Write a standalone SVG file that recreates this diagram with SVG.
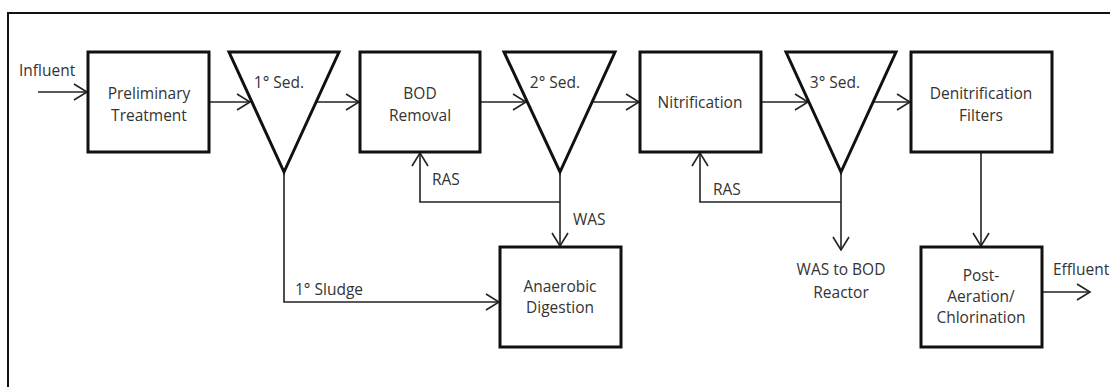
<svg xmlns="http://www.w3.org/2000/svg" width="1110" height="387" viewBox="0 0 1110 387">
<style>
.box{fill:#fff;stroke:#111;stroke-width:3}
.tri{fill:#fff;stroke:#111;stroke-width:3;stroke-linejoin:miter}
.ln{fill:none;stroke:#222;stroke-width:1.6}
text{font-family:"Open Sans","Liberation Sans",sans-serif;font-size:15.5px;fill:#333}
.c{text-anchor:middle}
</style>
<defs>
<marker id="ah" markerUnits="userSpaceOnUse" markerWidth="20" markerHeight="20" viewBox="-15 -10 17 20" refX="0" refY="0" orient="auto">
<path d="M-13,-8 L0,0 L-13,8" fill="none" stroke="#222" stroke-width="1.6"/>
</marker>
</defs>
<rect x="8" y="13" width="1110" height="390" fill="none" stroke="#111" stroke-width="2"/>
<g id="connectors">
<path class="ln" d="M38,92 H87" marker-end="url(#ah)"/>
<path class="ln" d="M209,102 H250" marker-end="url(#ah)"/>
<path class="ln" d="M316,102 H359" marker-end="url(#ah)"/>
<path class="ln" d="M480,102 H526" marker-end="url(#ah)"/>
<path class="ln" d="M592,102 H639" marker-end="url(#ah)"/>
<path class="ln" d="M761,102 H808" marker-end="url(#ah)"/>
<path class="ln" d="M873,102 H910" marker-end="url(#ah)"/>
<path class="ln" d="M284,172 V302 H499" marker-end="url(#ah)"/>
<path class="ln" d="M560,172 V246" marker-end="url(#ah)"/>
<path class="ln" d="M560,202 H420 V153" marker-end="url(#ah)"/>
<path class="ln" d="M841,172 V250" marker-end="url(#ah)"/>
<path class="ln" d="M841,202 H700 V153" marker-end="url(#ah)"/>
<path class="ln" d="M981,152 V246" marker-end="url(#ah)"/>
<path class="ln" d="M1042,292 H1090" marker-end="url(#ah)"/>
<text x="19" y="76">Influent</text>
<text x="295" y="295">1° Sludge</text>
<text x="432" y="185">RAS</text>
<text x="573" y="225">WAS</text>
<text x="713" y="195">RAS</text>
<text class="c" x="841" y="275">WAS to BOD</text>
<text class="c" x="841" y="298">Reactor</text>
<text x="1053" y="275">Effluent</text>
</g>
<g id="preliminary">
<rect class="box" x="88" y="52" width="121" height="100"/>
<text class="c" x="149" y="99">Preliminary</text>
<text class="c" x="149" y="121">Treatment</text>
</g>
<g id="sed1">
<path class="tri" d="M229,52 H339 L284,172 Z"/>
<text class="c" x="279" y="88">1° Sed.</text>
</g>
<g id="bod">
<rect class="box" x="360" y="52" width="120" height="100"/>
<text class="c" x="420" y="99">BOD</text>
<text class="c" x="420" y="121">Removal</text>
</g>
<g id="sed2">
<path class="tri" d="M504,52 H615 L560,172 Z"/>
<text class="c" x="555" y="88">2° Sed.</text>
</g>
<g id="nitrification">
<rect class="box" x="640" y="52" width="121" height="100"/>
<text class="c" x="700" y="108">Nitrification</text>
</g>
<g id="sed3">
<path class="tri" d="M786,52 H896 L841,172 Z"/>
<text class="c" x="835" y="88">3° Sed.</text>
</g>
<g id="denitrification">
<rect class="box" x="911" y="52" width="141" height="100"/>
<text class="c" x="981" y="99">Denitrification</text>
<text class="c" x="981" y="121">Filters</text>
</g>
<g id="anaerobic">
<rect class="box" x="500" y="247" width="121" height="100"/>
<text class="c" x="560" y="292">Anaerobic</text>
<text class="c" x="560" y="313">Digestion</text>
</g>
<g id="postaeration">
<rect class="box" x="921" y="247" width="121" height="100"/>
<text class="c" x="981" y="281">Post-</text>
<text class="c" x="981" y="302">Aeration/</text>
<text class="c" x="981" y="323">Chlorination</text>
</g>
</svg>
